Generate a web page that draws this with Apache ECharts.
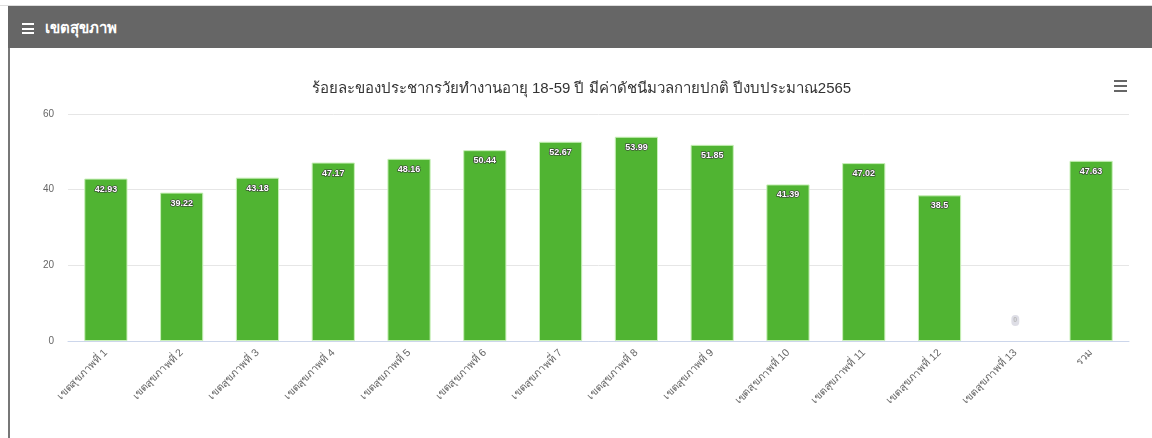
<html>
<head>
    <meta charset="utf-8">
    <title></title>
    <script src="https://cdn.jsdelivr.net/npm/echarts@6/dist/echarts.min.js" type="text/javascript"></script>
    <style>
        body { margin: 0; background: #fff; font-family: "Noto Sans", "DejaVu Sans", sans-serif; }
        #top { position: absolute; left: 0; top: 0; width: 1152px; height: 5px; border-bottom: 1px solid #ddd; }
        #head { position: absolute; left: 8px; top: 6px; width: 1144px; height: 42px; background: #666; color: #fff;
                font-size: 15px; font-weight: bold; line-height: 42px; }
        #head .ico { display: inline-block; width: 12px; height: 11px; margin: 0 11px 0 14px; vertical-align: -1px;
                     background: linear-gradient(#fff 0 2px, transparent 2px 4.5px, #fff 4.5px 6.5px, transparent 6.5px 9px, #fff 9px 11px); }
        #main { position: absolute; left: 8px; top: 48px; width: 1143px; height: 390px; border-left: 2px solid #777; }
    </style>
</head>
<body>
    <div id="top"></div>
    <div id="head"><span class="ico"></span>เขตสุขภาพ</div>
    <div id="main"></div>
    <script>
        var categories = ['เขตสุขภาพที่ 1', 'เขตสุขภาพที่ 2', 'เขตสุขภาพที่ 3', 'เขตสุขภาพที่ 4', 'เขตสุขภาพที่ 5',
            'เขตสุขภาพที่ 6', 'เขตสุขภาพที่ 7', 'เขตสุขภาพที่ 8', 'เขตสุขภาพที่ 9', 'เขตสุขภาพที่ 10',
            'เขตสุขภาพที่ 11', 'เขตสุขภาพที่ 12', 'เขตสุขภาพที่ 13', 'รวม'];
        var values = [42.93, 39.22, 43.18, 47.17, 48.16, 50.44, 52.67, 53.99, 51.85, 41.39, 47.02, 38.5, 0, 47.63];
        var yTicks = [0, 20, 40, 60];

        var seriesData = values.map(function (v) {
            if (v === 0) {
                return {
                    value: v,
                    itemStyle: { borderWidth: 0 },
                    label: {
                        offset: [0, -32], color: '#bbb', textBorderWidth: 0, fontSize: 7,
                        backgroundColor: 'rgba(190,190,205,0.5)', borderRadius: 6, padding: [2, 2]
                    }
                };
            }
            return v;
        });

        var myChart = echarts.init(document.getElementById('main'));
        var option = {
            animation: false,
            title: {
                text: 'ร้อยละของประชากรวัยทำงานอายุ 18-59 ปี มีค่าดัชนีมวลกายปกติ ปีงบประมาณ2565',
                left: 'center',
                top: 28,
                textStyle: { fontSize: 15, fontWeight: 'normal', color: '#333' }
            },
            graphic: [
                { type: 'rect', left: 1104, top: 32, shape: { width: 13, height: 2 }, style: { fill: '#666' } },
                { type: 'rect', left: 1104, top: 37, shape: { width: 13, height: 2 }, style: { fill: '#666' } },
                { type: 'rect', left: 1104, top: 42, shape: { width: 13, height: 2 }, style: { fill: '#666' } }
            ],
            grid: { left: 58, right: 24, top: 66, bottom: 97 },
            xAxis: {
                type: 'category',
                data: categories,
                axisLine: { lineStyle: { color: '#ccd6eb' } },
                axisTick: { length: 8, lineStyle: { color: '#ccd6eb' } },
                axisLabel: { rotate: 45, fontSize: 10.5, color: '#666', margin: 10 }
            },
            yAxis: {
                type: 'value',
                min: yTicks[0],
                max: yTicks[yTicks.length - 1],
                interval: 20,
                axisLabel: { fontSize: 10, color: '#666', margin: 14 },
                splitLine: { lineStyle: { color: '#e6e6e6' } }
            },
            series: [{
                type: 'bar',
                data: seriesData,
                barWidth: '57%',
                itemStyle: { color: '#50b432', borderColor: '#c8f0b8', borderWidth: 1 },
                label: {
                    show: true,
                    position: 'insideTop',
                    distance: 6,
                    fontSize: 9,
                    fontWeight: 'bold',
                    color: '#fff',
                    textBorderColor: '#333',
                    textBorderWidth: 1.2
                }
            }]
        };
        myChart.setOption(option);
    </script>
</body>
</html>
